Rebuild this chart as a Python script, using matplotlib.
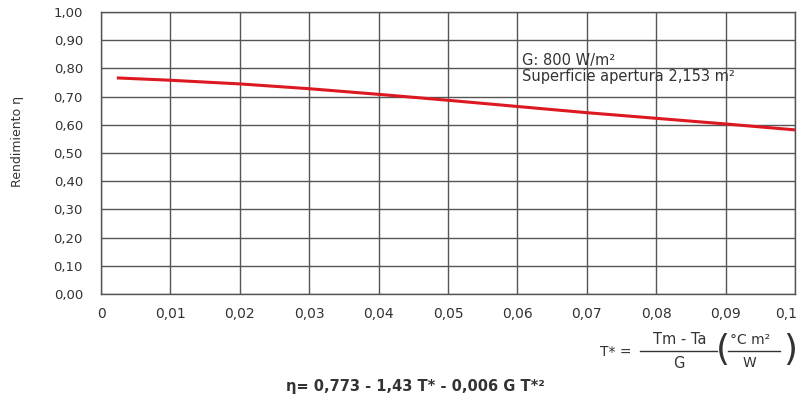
import matplotlib.pyplot as plt
from matplotlib.lines import Line2D
from matplotlib.transforms import ScaledTranslation

plt.rcParams['font.family'] = ['DejaVu Sans']

# values
t_star = [0.0025, 0.01, 0.02, 0.03, 0.04, 0.05, 0.06, 0.07, 0.08, 0.09, 0.1]
eta = [0.766, 0.758, 0.745, 0.728, 0.708, 0.687, 0.665, 0.643, 0.623, 0.603, 0.582]

x_ticks = [0, 0.01, 0.02, 0.03, 0.04, 0.05, 0.06, 0.07, 0.08, 0.09, 0.1]
x_labels = ['0', '0,01', '0,02', '0,03', '0,04', '0,05', '0,06', '0,07', '0,08', '0,09', '0,1']
y_ticks = [i / 10 for i in range(11)]
y_labels = ['0,00', '0,10', '0,20', '0,30', '0,40', '0,50', '0,60', '0,70', '0,80', '0,90', '1,00']

W, H = 802, 403
txt = '#333333'
grid_c = '#555555'

fig = plt.figure(figsize=(W / 100, H / 100), dpi=100)
ax = fig.add_axes([101 / W, 1 - 294 / H, (795 - 101) / W, (294 - 12) / H])

ax.plot(t_star, eta, color='#dd1820', linewidth=2.2, zorder=3)

ax.set_xlim(0, 0.1)
ax.set_ylim(0, 1.0)
ax.set_xticks(x_ticks)
ax.set_xticklabels(x_labels)
ax.set_yticks(y_ticks)
ax.set_yticklabels(y_labels)
ax.tick_params(length=0, colors=txt)
ax.tick_params(axis='x', labelsize=10, pad=9)
ax.tick_params(axis='y', labelsize=9.5, pad=13)
ax.grid(True, color=grid_c, linewidth=1.0)
for s in ax.spines.values():
    s.set_color(grid_c)
    s.set_linewidth(1.0)

# last x label sits a bit left so it stays inside the picture
last = ax.get_xticklabels()[-1]
last.set_transform(last.get_transform() + ScaledTranslation(-9 / 100, 0, fig.dpi_scale_trans))


def px(x, y):
    return x / W, 1 - y / H


fig.text(*px(18, 141), 'Rendimiento η', fontsize=9, color=txt, rotation=90,
         ha='center', va='center')

# notes inside the plot
fig.text(*px(522, 61), 'G: 800 W/m²', fontsize=10.5, color=txt, va='center')
fig.text(*px(522, 77), 'Superficie apertura 2,153 m²', fontsize=10.5, color=txt, va='center')

# T* definition
fig.text(*px(616, 352), 'T* =', fontsize=10, color=txt, ha='center', va='center')
fig.text(*px(680, 340), 'Tm - Ta', fontsize=10.5, color=txt, ha='center', va='center')
fig.text(*px(679, 363), 'G', fontsize=10.5, color=txt, ha='center', va='center')
fig.add_artist(Line2D([640 / W, 717 / W], [1 - 351 / H, 1 - 351 / H], color=txt, linewidth=1.0))
fig.text(*px(723, 350), '(', fontsize=26, color=txt, ha='center', va='center')
fig.text(*px(750, 340), '°C m²', fontsize=10, color=txt, ha='center', va='center')
fig.text(*px(749, 363), 'W', fontsize=10, color=txt, ha='center', va='center')
fig.add_artist(Line2D([728 / W, 780 / W], [1 - 351 / H, 1 - 351 / H], color=txt, linewidth=1.0))
fig.text(*px(790, 350), ')', fontsize=26, color=txt, ha='center', va='center')

# efficiency equation
fig.text(*px(415, 387), 'η= 0,773 - 1,43 T* - 0,006 G T*²', fontsize=10.5, color=txt,
         ha='center', va='center', fontweight='bold')

fig.savefig('out.png', dpi=100)
